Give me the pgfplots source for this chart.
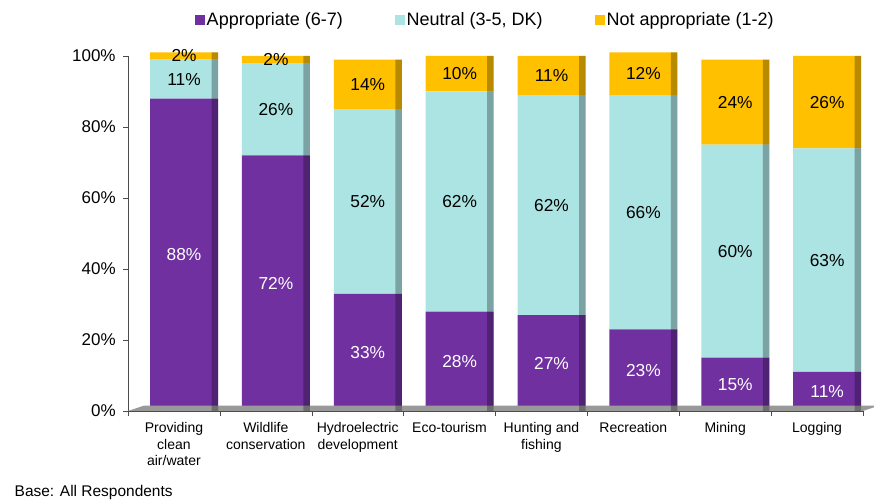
\documentclass[border=0pt]{standalone}
\usepackage{pgfplots}
\pgfplotsset{compat=1.18}
\usepackage{pgfplotstable}
\usepackage{fontspec}
\setmainfont{Liberation Sans}
\definecolor{P}{RGB}{112,48,160}
\definecolor{N}{RGB}{172,227,227}
\definecolor{Y}{RGB}{255,192,0}
\pgfplotstableread{
x app neu not
0 88 11 2
1 72 26 2
2 33 52 14
3 28 62 10
4 27 62 11
5 23 66 12
6 15 60 24
7 11 63 26
}\datatable
\begin{document}
\begin{tikzpicture}
\useasboundingbox (0,0) rectangle (655.5pt,376.5pt);
\begin{axis}[
  at={(96pt,68.25pt)}, anchor=south west,
  scale only axis, width=551.25pt, height=266.25pt,
  font=\fontsize{13}{15.6}\selectfont,
  /pgf/number format/assume math mode=true,
  ybar stacked, bar width=0.74, bar shift=0.11,
  clip=false,
  xmin=-0.5, xmax=7.5, ymin=0, ymax=100,
  axis x line*=bottom, axis y line*=left,
  axis line style={draw=black!70, -},
  xtick={0,...,7},
  xticklabels={{Providing\\clean\\air/water},{Wildlife\\conservation},{Hydroelectric\\development},{Eco-tourism},{Hunting and\\fishing},{Recreation},{Mining},{Logging}},
  xticklabel style={align=center, yshift=-1.5pt, font=\fontsize{10.5}{12.4}\selectfont},
  minor xtick={-0.5,0.5,...,7.5},
  major x tick style={draw=none},
  minor x tick style={draw=black!70},
  ytick={0,20,...,100},
  yticklabels={0\%,20\%,40\%,60\%,80\%,100\%},
  ytick style={draw=black!70},
  yticklabel style={xshift=-2pt, font=\fontsize{12.75}{15}\selectfont},
  tick align=outside, major tick length=3.75pt, minor tick length=3.75pt,
  point meta=explicit,
  nodes near coords={\pgfmathprintnumber{\pgfplotspointmeta}\%},
  every node near coord/.append style={anchor=center, font=\fontsize{13}{15.6}\selectfont},
  legend columns=3,
  legend style={at={(0.486,1)}, anchor=center, yshift=27pt, draw=none, fill=none, font=\fontsize{13.5}{16}\selectfont, /tikz/every even column/.append style={column sep=38pt}, nodes={inner sep=1.2pt}},
  legend image code/.code={\fill[#1] (0pt,-3.75pt) rectangle (7.5pt,3.75pt);},
]
\fill[black!40] (axis cs:-0.5,0) -- (axis cs:7.5,0) -- ([shift={(12pt,4pt)}]axis cs:7.5,0) -- ([shift={(12pt,4pt)}]axis cs:-0.5,0) -- cycle;
\addplot[draw=none, fill=P, every node near coord/.append style={text=white}] table[x=x,y=app,meta=app]{\datatable};
\addplot[draw=none, fill=N, every node near coord/.append style={text=black}] table[x=x,y=neu,meta=neu]{\datatable};
\addplot[draw=none, fill=Y, every node near coord/.append style={text=black}] table[x=x,y=not,meta=not]{\datatable};
\legend{Appropriate (6-7),{Neutral (3-5, DK)},Not appropriate (1-2)}
\end{axis}
\begin{axis}[
  at={(96pt,68.25pt)}, anchor=south west,
  scale only axis, width=551.25pt, height=266.25pt,
  xmin=-0.5, xmax=7.5, ymin=0, ymax=100, clip=false,
  hide axis, ybar, bar width=0.07, bar shift=0.445,
]
\addplot[draw=none, fill=black, fill opacity=0.28] coordinates {(0,101) (1,100) (2,99) (3,100) (4,100) (5,101) (6,99) (7,100)};
\end{axis}
\node[anchor=base west, font=\fontsize{11.6}{14}\selectfont] at (7.5pt,3.75pt) {Base: All Respondents};
\end{tikzpicture}
\end{document}
